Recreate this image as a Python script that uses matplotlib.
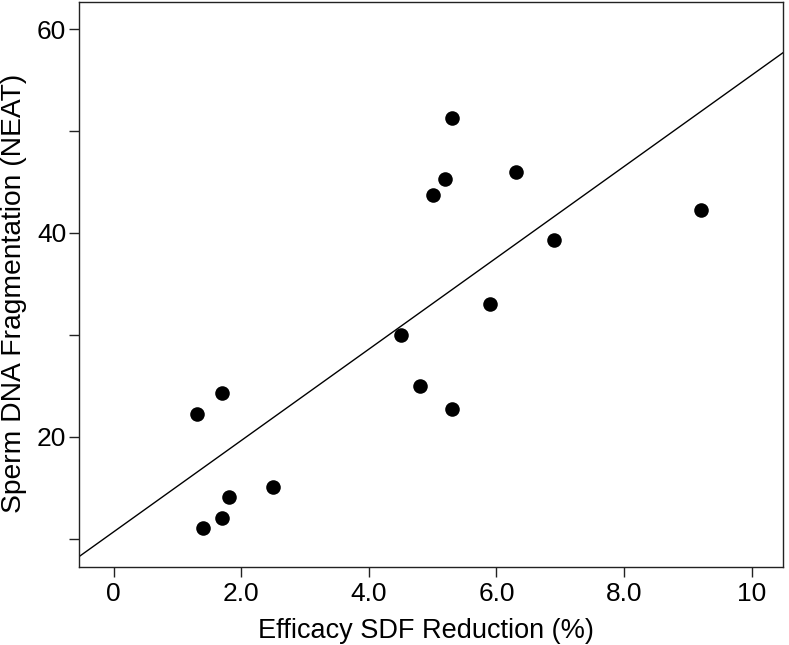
import numpy as np
import matplotlib
matplotlib.use("Agg")
import matplotlib.pyplot as plt

plt.rcParams['font.family'] = ['Liberation Sans', 'DejaVu Sans']

# Data
efficacy = [5.3, 6.3, 5.2, 5.0, 9.2, 6.9, 5.9, 4.5, 4.8, 5.3, 1.7, 1.3, 2.5, 1.8, 1.7, 1.4]
fragmentation = [51.3, 46.0, 45.3, 43.7, 42.3, 39.3, 33.0, 30.0, 25.0, 22.7,
                 24.3, 22.3, 15.1, 14.1, 12.1, 11.1]
fit_intercept = 10.7
fit_slope = 4.478

x_ticks = [0, 2, 4, 6, 8, 10]
x_ticklabels = ['0', '2.0', '4.0', '6.0', '8.0', '10']
y_ticks = [10, 20, 30, 40, 50, 60]
y_ticklabels = ['', '20', '', '40', '', '60']

W, H = 789, 645
fig = plt.figure(figsize=(W / 100, H / 100), dpi=100)
ax = fig.add_axes([79 / W, 1 - 567 / H, (782.7 - 79) / W, (567 - 2) / H])

xlim = (-0.544, 10.486)
ylim = (7.25, 62.65)
ax.set_xlim(*xlim)
ax.set_ylim(*ylim)

xs = np.array(xlim)
ax.plot(xs, fit_intercept + fit_slope * xs, color='black', lw=1.0, zorder=2)
ax.scatter(efficacy, fragmentation, s=110, color='black', zorder=3, linewidths=0)

ax.set_xticks(x_ticks)
ax.set_xticklabels(x_ticklabels)
ax.set_yticks(y_ticks)
ax.set_yticklabels(y_ticklabels)
ax.tick_params(direction='out', length=7.2, width=1.0, labelsize=19, colors='#222222',
               labelcolor='black')
ax.tick_params(axis='x', pad=3.5)
ax.tick_params(axis='y', pad=2)

for sp in ax.spines.values():
    sp.set_color('#222222')
    sp.set_linewidth(1.0)

fig.text(258 / W, 1 - 638.3 / H, 'Efficacy SDF Reduction (%)', fontsize=19.5,
         ha='left', va='baseline')
fig.text(14 / W, 1 - 513 / H, 'Sperm DNA Fragmentation (NEAT)', fontsize=20.3,
         rotation=90, ha='center', va='bottom')

fig.savefig('out.png', dpi=100)
